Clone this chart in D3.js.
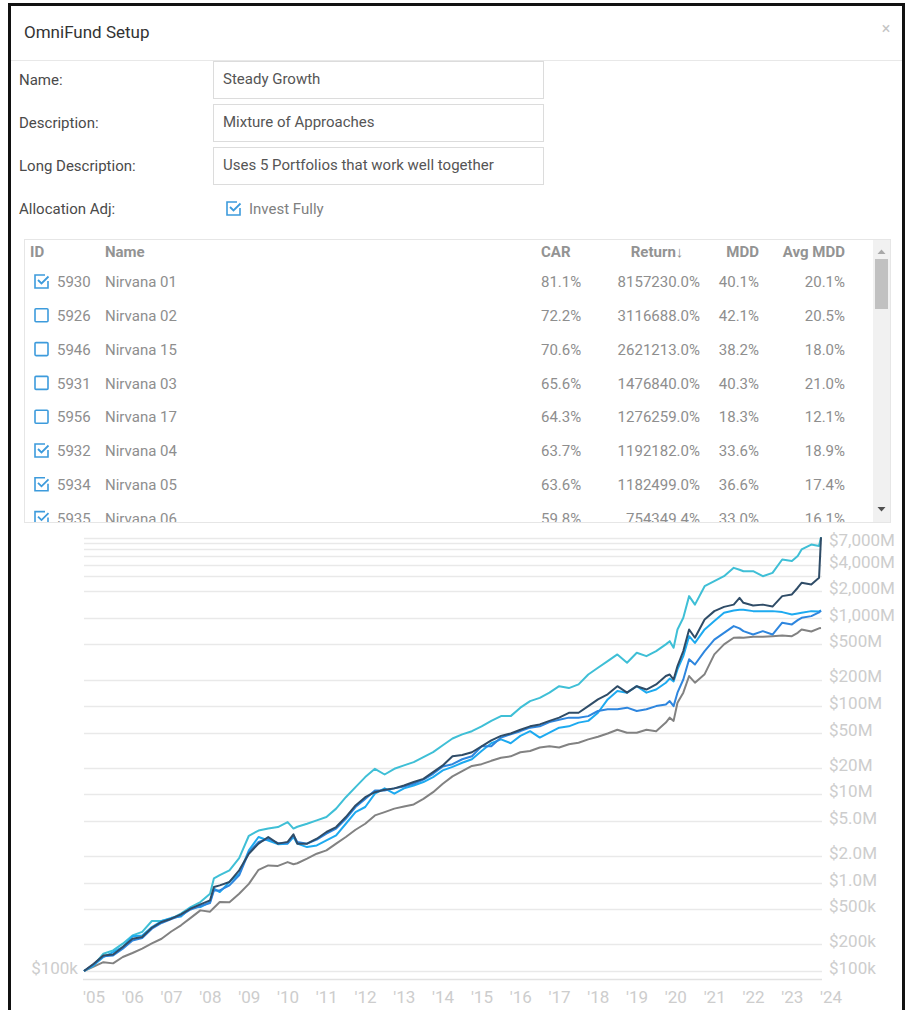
<!DOCTYPE html>
<html>
<head>
<meta charset="utf-8">
<script src="https://cdn.jsdelivr.net/npm/d3@7"></script>
<style>
  html, body { margin: 0; padding: 0; background: #fff; }
  svg { display: block; font-family: Roboto, "Open Sans", sans-serif; }
</style>
</head>
<body>
<svg id="page" width="906" height="1010"></svg>
<script>
// ---- form + table data ----
var formLabels = ['Name:', 'Description:', 'Long Description:'];
var formValues = ['Steady Growth', 'Mixture of Approaches', 'Uses 5 Portfolios that work well together'];

var rowChecked = [true, false, false, false, false, true, true, true];
var rowIds = ['5930', '5926', '5946', '5931', '5956', '5932', '5934', '5935'];
var rowNames = ['Nirvana 01', 'Nirvana 02', 'Nirvana 15', 'Nirvana 03', 'Nirvana 17', 'Nirvana 04', 'Nirvana 05', 'Nirvana 06'];
var rowCar = ['81.1%', '72.2%', '70.6%', '65.6%', '64.3%', '63.7%', '63.6%', '59.8%'];
var rowReturn = ['8157230.0%', '3116688.0%', '2621213.0%', '1476840.0%', '1276259.0%', '1192182.0%', '1182499.0%', '754349.4%'];
var rowMdd = ['40.1%', '42.1%', '38.2%', '40.3%', '18.3%', '33.6%', '36.6%', '33.0%'];
var rowAvgMdd = ['20.1%', '20.5%', '18.0%', '21.0%', '12.1%', '18.9%', '17.4%', '16.1%'];

// ---- chart data (equity in $M) ----
var dates = [
  2005, 2005.25, 2005.5, 2005.75,
  2006, 2006.25, 2006.5, 2006.75,
  2007, 2007.25, 2007.5, 2007.75,
  2008, 2008.25, 2008.35, 2008.5, 2008.75,
  2009, 2009.25, 2009.5, 2009.75,
  2010, 2010.25, 2010.4, 2010.5, 2010.75,
  2011, 2011.25, 2011.5, 2011.75,
  2012, 2012.25, 2012.5, 2012.75,
  2013, 2013.25, 2013.5, 2013.75,
  2014, 2014.25, 2014.5, 2014.75,
  2015, 2015.25, 2015.5, 2015.75,
  2016, 2016.25, 2016.5, 2016.75,
  2017, 2017.25, 2017.5, 2017.75,
  2018, 2018.25, 2018.5, 2018.75,
  2019, 2019.25, 2019.5, 2019.75,
  2020, 2020.1, 2020.2, 2020.3, 2020.45, 2020.6, 2020.75,
  2021, 2021.25, 2021.5, 2021.75, 2021.9,
  2022, 2022.25, 2022.5, 2022.75,
  2023, 2023.25, 2023.4, 2023.5, 2023.75, 2023.95, 2024
];

var nirvana01 = [
  0.1, 0.116, 0.157, 0.171,
  0.204, 0.253, 0.277, 0.368,
  0.368, 0.391, 0.446, 0.53,
  0.604, 0.75, 1.12, 1.22, 1.38,
  1.9, 3.4, 3.9, 4.1,
  4.27, 4.86, 4.1, 4.3, 4.65,
  5.08, 5.54, 6.9, 9.3,
  12.1, 15.7, 19.5, 16.8,
  19.5, 21.3, 23.2, 26.5,
  30.1, 36, 43, 47.8,
  52, 59, 68, 77,
  77, 96, 114, 124,
  142, 168, 160, 176,
  228, 272, 323, 385,
  310, 402, 368, 420,
  500, 544, 458, 738, 1000, 1760, 1410,
  2280, 2600, 2960, 3680, 3500,
  3370, 3370, 2960, 3230,
  4570, 4400, 5000, 5940, 6760, 6500, 8160
];

var omniFund = [
  0.1, 0.121, 0.15, 0.154,
  0.187, 0.232, 0.243, 0.309,
  0.359, 0.391, 0.438, 0.508,
  0.569, 0.631, 0.893, 0.933, 1.02,
  1.38, 2.13, 2.77, 3.29,
  2.77, 2.9, 3.53, 2.77, 2.77,
  3.15, 3.75, 4.27, 5.54,
  7.5, 9.3, 10.6, 11.3,
  11.7, 12.6, 13.8, 15,
  17.9, 21.3, 27, 28,
  30, 35, 41, 46,
  49, 54, 59, 62,
  68, 74, 84, 84,
  100, 119, 136, 168,
  142, 168, 154, 176,
  219, 228, 200, 284, 420, 738, 594,
  957, 1190, 1330, 1410, 1680,
  1480, 1380, 1410, 1340,
  1760, 1840, 2190, 2490, 2380, 2840, 8160
];

var nirvana04 = [
  0.1, 0.116, 0.144, 0.164,
  0.187, 0.247, 0.253, 0.315,
  0.368, 0.4, 0.415, 0.52,
  0.53, 0.604, 0.855, 0.783, 1.02,
  1.26, 2.32, 3.29, 3.01,
  2.73, 2.77, 3.29, 2.77, 2.53,
  2.64, 3.01, 3.43, 4.65,
  6.3, 7.2, 10.2, 11.7,
  10.2, 11.7, 12.6, 13.8,
  15.7, 18.7, 20.5, 22.8,
  25, 31, 38, 42,
  38, 46, 52, 44,
  50, 57, 59, 65,
  68, 84, 119, 148,
  142, 168, 142, 154,
  184, 205, 190, 260, 368, 620, 520,
  738, 919, 1140, 1210, 1230,
  1230, 1190, 1190, 1190,
  1160, 1090, 1120, 1140, 1190, 1180, 1210
];

var nirvana05 = [
  0.1, 0.119, 0.147, 0.15,
  0.179, 0.222, 0.237, 0.301,
  0.35, 0.388, 0.425, 0.498,
  0.545, 0.59, 0.818, 0.818, 0.933,
  1.21, 2.22, 2.89, 3.15,
  2.8, 2.8, 3.43, 2.89, 2.77,
  3.07, 3.59, 4.1, 5.3,
  7.2, 8.9, 11.1, 11.1,
  11.7, 12.3, 13.2, 14.7,
  17.1, 20.7, 22, 25,
  27, 35, 35, 44,
  48, 52, 57, 59,
  66, 70, 74, 74,
  77, 88, 92, 92,
  96, 88, 92, 100,
  104, 114, 100, 142, 200, 340, 296,
  420, 567, 676, 806, 760,
  706, 646, 706, 646,
  880, 842, 940, 1000, 1045, 1150, 1210
];

var nirvana06 = [
  0.1, 0.112, 0.126, 0.122,
  0.144, 0.16, 0.179, 0.205,
  0.232, 0.28, 0.329, 0.4,
  0.486, 0.47, 0.52, 0.604, 0.6,
  0.75, 0.97, 1.4, 1.57,
  1.55, 1.71, 1.62, 1.66, 1.87,
  2.13, 2.32, 2.77, 3.29,
  3.98, 4.65, 5.78, 6.3,
  6.9, 7.3, 7.7, 8.9,
  10.6, 13.2, 16, 18.4,
  21, 22, 24, 26,
  27, 30, 31, 34,
  35, 34, 37, 38.5,
  42, 45, 49, 54,
  50, 50, 54, 52,
  65, 74, 68, 109, 142, 219, 184,
  230, 385, 500, 594, 600,
  594, 610, 610, 620,
  630, 620, 676, 738, 700, 760, 766
];

// draw order: bottom first
var seriesNames = ['Nirvana 06', 'Nirvana 01', 'Nirvana 04', 'Nirvana 05', 'OmniFund'];
var seriesValues = [nirvana06, nirvana01, nirvana04, nirvana05, omniFund];
var seriesColors = ['#828282', '#3fbfd6', '#1daaf0', '#2e86de', '#2f4c67'];

var gridValues = [1e5, 2e5, 5e5, 1e6, 2e6, 5e6, 1e7, 2e7, 5e7, 1e8, 2e8, 5e8, 1e9, 2e9, 3e9, 4e9, 5e9, 6e9, 7e9, 8e9];
var gridLabels = ['$100k', '$200k', '$500k', '$1.0M', '$2.0M', '$5.0M', '$10M', '$20M', '$50M', '$100M',
  '$200M', '$500M', '$1,000M', '$2,000M', '', '$4,000M', '', '', '$7,000M', ''];
var yearTicks = d3.range(2005, 2025);

var svg = d3.select('#page');

// modal frame
svg.append('rect')
  .attr('x', 9.5).attr('y', 4.5).attr('width', 894).attr('height', 1030)
  .attr('fill', '#fff').attr('stroke', '#111').attr('stroke-width', 3);

// header
svg.append('text').attr('x', 24).attr('y', 32).attr('dy', '0.35em')
  .attr('font-size', 17).attr('fill', '#333').text('OmniFund Setup');
svg.append('text').attr('x', 886).attr('y', 28).attr('dy', '0.35em')
  .attr('text-anchor', 'middle').attr('font-size', 16).attr('fill', '#c4c4c4').text('×');
svg.append('line').attr('x1', 11).attr('x2', 902).attr('y1', 60.5).attr('y2', 60.5)
  .attr('stroke', '#e8e8e8');

// form fields
var formTop = [61, 104, 147];
var form = svg.append('g').selectAll('g').data(formLabels).enter().append('g');
form.append('text')
  .attr('x', 19).attr('y', function(d, i) { return formTop[i] + 19; }).attr('dy', '0.35em')
  .attr('font-size', 15).attr('fill', '#4a4a4a').text(function(d) { return d; });
form.append('rect')
  .attr('x', 213.5).attr('y', function(d, i) { return formTop[i] + 0.5; })
  .attr('width', 330).attr('height', 37)
  .attr('fill', '#fff').attr('stroke', '#dcdcdc');
form.append('text')
  .attr('x', 223).attr('y', function(d, i) { return formTop[i] + 18; }).attr('dy', '0.35em')
  .attr('font-size', 15).attr('fill', '#555').text(function(d, i) { return formValues[i]; });

svg.append('text').attr('x', 19).attr('y', 209).attr('dy', '0.35em')
  .attr('font-size', 15).attr('fill', '#4a4a4a').text('Allocation Adj:');

function drawCheckbox(g, x, y, checked) {
  if (checked) {
    g.append('path')
      .attr('d', 'M' + (x + 10) + ',' + y + ' H' + x + ' V' + (y + 13) + ' H' + (x + 13) + ' V' + (y + 6))
      .attr('fill', 'none').attr('stroke', '#3d9bdc').attr('stroke-width', 1.6);
    g.append('path')
      .attr('d', 'M' + (x + 3) + ',' + (y + 5) + ' L' + (x + 6.5) + ',' + (y + 8.5) + ' L' + (x + 13.5) + ',' + (y + 1.5))
      .attr('fill', 'none').attr('stroke', '#3d9bdc').attr('stroke-width', 1.8);
  } else {
    g.append('rect').attr('x', x).attr('y', y).attr('width', 13).attr('height', 13)
      .attr('rx', 1).attr('fill', 'none').attr('stroke', '#3d9bdc').attr('stroke-width', 1.6);
  }
}

drawCheckbox(svg, 227, 202, true);
svg.append('text').attr('x', 249).attr('y', 209).attr('dy', '0.35em')
  .attr('font-size', 15).attr('fill', '#808080').text('Invest Fully');

// ---- table ----
var table = svg.append('g');
table.append('rect').attr('x', 24.5).attr('y', 239.5).attr('width', 866).attr('height', 283)
  .attr('fill', '#fff').attr('stroke', '#e6e6e6');

svg.append('clipPath').attr('id', 'tableClip')
  .append('rect').attr('x', 25).attr('y', 240).attr('width', 848).attr('height', 282);

var headY = 252;
var head = table.append('g').attr('font-size', 15).attr('font-weight', 'bold').attr('fill', '#939393');
head.append('text').attr('x', 30).attr('y', headY).attr('dy', '0.35em').text('ID');
head.append('text').attr('x', 105).attr('y', headY).attr('dy', '0.35em').text('Name');
head.append('text').attr('x', 541).attr('y', headY).attr('dy', '0.35em').text('CAR');
head.append('text').attr('x', 657).attr('y', headY).attr('dy', '0.35em').attr('text-anchor', 'middle').text('Return↓');
head.append('text').attr('x', 759).attr('y', headY).attr('dy', '0.35em').attr('text-anchor', 'end').text('MDD');
head.append('text').attr('x', 845).attr('y', headY).attr('dy', '0.35em').attr('text-anchor', 'end').text('Avg MDD');

var rowY = d3.scaleLinear().domain([0, 1]).range([282, 315.8]);
var rows = table.append('g').attr('clip-path', 'url(#tableClip)')
  .selectAll('g').data(rowIds).enter().append('g')
  .attr('font-size', 15).attr('fill', '#8e8e8e');

rows.each(function(d, i) {
  drawCheckbox(d3.select(this), 35, rowY(i) - 7, rowChecked[i]);
});
rows.append('text').attr('x', 57).attr('y', function(d, i) { return rowY(i); }).attr('dy', '0.35em')
  .text(function(d) { return d; });
rows.append('text').attr('x', 105).attr('y', function(d, i) { return rowY(i); }).attr('dy', '0.35em')
  .text(function(d, i) { return rowNames[i]; });
rows.append('text').attr('x', 541).attr('y', function(d, i) { return rowY(i); }).attr('dy', '0.35em')
  .text(function(d, i) { return rowCar[i]; });
rows.append('text').attr('x', 700).attr('y', function(d, i) { return rowY(i); }).attr('dy', '0.35em')
  .attr('text-anchor', 'end').text(function(d, i) { return rowReturn[i]; });
rows.append('text').attr('x', 759).attr('y', function(d, i) { return rowY(i); }).attr('dy', '0.35em')
  .attr('text-anchor', 'end').text(function(d, i) { return rowMdd[i]; });
rows.append('text').attr('x', 845).attr('y', function(d, i) { return rowY(i); }).attr('dy', '0.35em')
  .attr('text-anchor', 'end').text(function(d, i) { return rowAvgMdd[i]; });

// scrollbar
table.append('rect').attr('x', 873).attr('y', 240).attr('width', 17).attr('height', 282).attr('fill', '#f1f1f1');
table.append('rect').attr('x', 875).attr('y', 259).attr('width', 13).attr('height', 50).attr('fill', '#c1c1c1');
table.append('path').attr('d', 'M877.5,254 L881.5,249.5 L885.5,254 Z').attr('fill', '#a8a8a8');
table.append('path').attr('d', 'M877.5,507 L881.5,511.5 L885.5,507 Z').attr('fill', '#505050');

// ---- chart ----
var x = d3.scaleLinear().domain([2005, 2024]).range([84, 821]);
var y = d3.scaleLog().domain([1e5, 1e10]).range([971, 529.5]);

var chart = svg.append('g');

chart.append('g').selectAll('line').data(gridValues).enter().append('line')
  .attr('x1', 84).attr('x2', 822)
  .attr('y1', function(d) { return Math.round(y(d)) + 0.5; })
  .attr('y2', function(d) { return Math.round(y(d)) + 0.5; })
  .attr('stroke', '#e9e9e9').attr('stroke-width', 1.5);

chart.append('line').attr('x1', 83).attr('x2', 822).attr('y1', 979.5).attr('y2', 979.5)
  .attr('stroke', '#e2e2e2').attr('stroke-width', 1.5);

chart.append('g').selectAll('text').data(gridValues).enter().append('text')
  .attr('x', 829).attr('y', function(d) { return y(d) - 3; }).attr('dy', '0.35em')
  .attr('font-size', 17).attr('fill', '#cdcdcd')
  .text(function(d, i) { return gridLabels[i]; });

chart.append('text').attr('x', 78).attr('y', y(1e5) - 3).attr('dy', '0.35em')
  .attr('text-anchor', 'end').attr('font-size', 17).attr('fill', '#cdcdcd').text('$100k');

chart.append('g').selectAll('text').data(yearTicks).enter().append('text')
  .attr('x', function(d) { return x(d) - 1; }).attr('y', 997).attr('dy', '0.35em')
  .attr('font-size', 17).attr('fill', '#cdcdcd')
  .text(function(d) { return "'" + String(d).slice(2); });

var line = d3.line()
  .x(function(d, i) { return x(dates[i]); })
  .y(function(d) { return y(d * 1e6); });

chart.append('g').selectAll('path').data(seriesValues).enter().append('path')
  .attr('d', function(d) { return line(d); })
  .attr('fill', 'none')
  .attr('stroke', function(d, i) { return seriesColors[i]; })
  .attr('stroke-width', 2)
  .attr('stroke-linejoin', 'round')
  .append('title').text(function(d, i) { return seriesNames[i]; });
</script>
</body>
</html>
